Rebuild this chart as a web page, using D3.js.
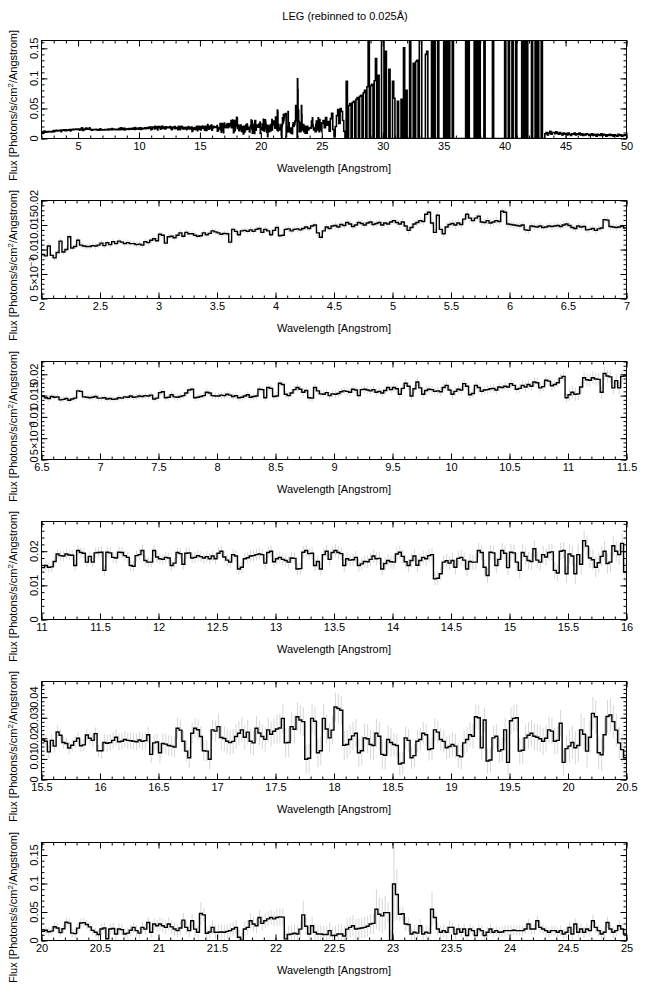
<!DOCTYPE html>
<html><head><meta charset="utf-8">
<script src="https://cdn.jsdelivr.net/npm/d3@7"></script>
<style>
body{margin:0;background:#fff}
text{font-family:"Liberation Sans",Arial,Helvetica,sans-serif;font-size:11px;fill:#000}
</style>
</head><body><svg id="c" width="647" height="995"></svg>
<script>
// ---- data (flux in units of 1e-3 photons/s/cm^2/Angstrom) ----
const FLUX_UNIT = 1e-3;
const BIN = 0.025;          // Angstrom per bin
const ROW_START = 2.0;      // first row starts at 2.0 A
const ROW_SPAN = 0.5;       // each row covers 0.5 A (20 bins)
const fluxRows = [
 [9.0,8.7,10.7,8.8,8.3,9.4,11.7,9.5,10.0,12.6,10.3,10.6,11.9,10.9,10.7,10.6,10.6,10.8,10.7,10.9],
 [11.3,10.8,11.4,11.0,11.6,11.2,11.7,11.5,11.2,11.4,11.2,11.2,11.0,11.1,10.9,11.6,11.4,11.9,12.2,11.8],
 [13.1,12.9,11.3,12.6,12.7,12.4,12.9,13.4,12.7,13.5,13.2,13.2,12.9,12.7,12.8,13.4,13.0,13.3,13.8,13.6],
 [13.4,13.1,13.3,13.2,11.5,14.1,13.7,13.0,13.8,13.9,13.7,14.0,13.7,14.1,14.3,13.5,14.1,13.8,13.0,13.9],
 [14.5,12.8,12.9,14.1,14.2,13.8,14.1,14.2,14.0,14.3,14.6,14.3,14.8,15.0,13.4,12.5,13.8,14.6,14.3,14.8],
 [14.9,14.6,15.1,14.9,15.5,15.2,14.7,15.0,15.5,15.3,15.0,15.4,15.6,15.1,15.3,15.5,15.0,15.4,15.2,15.6],
 [15.9,15.5,15.2,15.6,14.8,13.9,14.5,15.2,15.5,15.9,15.7,17.2,17.6,15.4,13.5,17.0,14.1,13.2,14.6,15.1],
 [15.3,15.0,15.4,15.1,16.2,17.2,16.4,15.9,16.4,16.8,15.6,15.5,15.9,15.4,15.6,15.9,15.7,17.8,17.6,15.2],
 [15.1,15.0,14.9,14.8,15.0,14.0,13.9,14.8,14.7,14.6,14.8,14.5,14.6,14.8,14.7,14.8,14.9,14.7,15.0,15.2],
 [14.9,14.5,14.3,14.8,14.6,14.7,14.0,14.1,14.3,13.9,14.2,14.4,16.1,16.0,14.7,14.6,14.5,14.6,14.8,14.4],
 [14.4,14.5,14.2,14.3,14.1,14.2,14.5,14.4,14.7,14.6,14.9,14.6,14.7,14.9,14.8,15.0,14.9,15.1,14.2,14.4],
 [15.7,15.9,14.5,14.6,15.2,14.7,14.6,14.8,15.0,15.6,16.3,16.5,14.5,14.6,14.8,15.0,15.8,15.6,15.0,14.9],
 [14.9,15.1,15.0,15.3,15.1,14.8,15.0,14.5,14.6,14.9,15.2,14.6,14.8,14.9,16.5,16.4,14.5,16.9,16.7,14.8],
 [14.9,17.9,17.6,15.3,15.0,15.6,16.4,16.9,16.5,15.8,16.2,14.5,14.4,16.9,16.1,15.4,15.3,15.7,15.0,15.4],
 [15.3,15.5,15.9,16.1,16.0,15.8,16.5,16.3,15.0,16.4,16.5,16.3,16.1,16.4,15.8,16.0,15.6,16.2,16.9,16.4],
 [16.9,16.6,15.3,16.7,17.9,17.2,14.9,16.6,18.2,16.8,15.3,16.2,16.5,16.4,16.0,16.1,15.9,16.9,17.4,16.3],
 [15.3,16.0,16.5,16.3,17.8,17.2,15.2,15.5,17.4,16.9,16.0,16.3,16.4,16.6,16.7,16.3,17.0,16.9,17.2,17.0],
 [17.8,17.4,16.5,16.7,17.4,17.0,17.6,17.2,18.2,18.0,16.8,17.1,18.6,18.4,17.3,17.6,18.0,19.1,19.5,14.5],
 [15.2,15.8,15.3,15.4,17.0,19.2,18.7,18.6,19.2,18.9,18.8,15.8,20.2,19.6,19.4,16.8,18.5,16.8,19.5,19.6],
 [19.7,14.4,19.7,19.5,18.2,18.0,19.7,19.6,18.7,18.2,15.8,15.6,18.7,19.0,20.2,17.3,16.8,16.8,20.2,18.3],
 [17.8,17.6,18.2,18.0,15.8,16.5,19.6,19.3,16.2,19.4,19.5,18.0,18.2,18.7,18.4,18.0,18.4,17.8,18.6,17.8],
 [19.4,20.0,18.3,17.4,16.8,19.0,18.6,14.8,15.3,17.8,18.1,18.6,18.7,19.0,19.2,19.0,16.5,19.6,20.0,16.9],
 [17.8,18.2,17.6,17.3,16.8,18.0,17.9,14.8,14.9,19.7,20.2,19.3,19.4,15.8,17.0,14.8,19.0,20.0,17.6,19.6],
 [20.2,19.6,19.3,15.8,17.8,17.4,17.5,18.2,15.8,16.3,17.0,16.9,17.6,18.6,17.8,17.9,14.8,16.4,17.3,16.9],
 [16.8,19.2,19.7,18.5,16.9,15.8,17.3,18.6,15.9,17.3,18.2,17.8,18.7,19.0,11.9,12.1,13.4,16.8,17.2,16.5],
 [17.3,15.3,17.9,18.2,17.4,14.8,17.0,16.8,16.8,20.2,19.6,15.3,12.9,19.7,19.5,15.8,17.6,20.2,19.4,15.2],
 [19.7,19.5,16.8,14.4,19.6,18.5,17.3,17.0,20.7,17.4,16.8,19.0,18.3,19.6,19.8,14.4,13.6,20.0,20.2,13.4],
 [19.2,18.6,13.4,19.0,16.2,23.1,21.5,18.0,17.5,15.3,16.6,18.5,20.0,16.4,16.8,21.6,20.0,19.0,22.3,13.9],
 [14.0,18.0,17.6,17.9,19.0,20.5,18.3,18.6,19.4,19.0,18.8,18.6,18.3,19.2,18.5,18.9,21.7,12.2,17.8,18.2],
 [13.0,17.5,17.2,16.5,16.2,15.8,24.9,24.0,18.6,13.8,10.6,22.5,24.9,24.2,20.9,14.0,13.8,9.8,24.1,23.5],
 [25.7,20.4,19.9,18.6,17.9,18.5,20.9,22.5,24.1,20.5,23.0,18.6,17.8,24.9,22.6,20.9,19.5,24.1,22.0,23.4],
 [24.5,25.0,29.7,17.8,18.0,25.7,24.4,30.5,28.9,28.1,9.8,10.3,29.7,28.3,13.0,14.0,29.7,24.5,20.2,24.0],
 [35.2,34.5,33.6,16.6,17.0,19.4,21.2,22.5,13.0,14.0,20.2,19.8,17.0,16.5,22.5,21.0,12.2,11.8,19.4,18.0],
 [17.0,16.5,7.5,8.0,20.2,19.0,10.6,11.6,18.6,19.4,22.5,21.7,14.6,15.0,24.1,23.0,19.4,18.5,15.4,16.0],
 [17.0,16.2,11.6,11.0,17.8,19.4,21.7,21.0,30.5,30.0,15.4,28.9,9.0,9.5,20.2,21.0,13.8,14.5,24.1,8.3],
 [28.5,29.7,30.0,13.8,14.2,20.2,21.5,22.5,21.0,20.5,19.8,18.6,20.0,24.1,23.5,18.6,19.0,27.3,8.3,15.0],
 [16.2,18.0,15.4,16.5,24.1,22.0,13.8,20.5,32.1,30.5,13.0,12.0,21.7,30.6,31.3,28.1,24.0,17.8,14.5,10.6],
 [20.2,22.0,3.0,20.2,21.0,11.5,20.2,19.0,11.5,13.0,18.0,23.1,17.3,13.0,23.1,20.0,31.7,14.4,28.9,26.0],
 [28.9,26.0,23.1,28.9,24.0,20.2,17.3,22.0,35.8,23.0,17.3,34.6,20.0,14.4,47.3,45.0,12.7,15.0,23.1,14.4],
 [14.4,15.0,14.4,16.0,17.3,20.2,23.1,5.8,0.0,20.2,23.1,34.6,28.9,26.0,40.4,30.0,34.6,38.0,40.4,38.0],
 [40.4,41.5,41.0,2.9,10.4,11.5,12.7,11.5,20.0,45.0,25.0,11.5,26.0,14.4,11.5,11.5,10.4,10.4,17.3,8.7],
 [8.7,11.5,11.5,8.0,20.0,23.1,26.0,20.2,21.0,22.0,23.1,25.0,28.9,30.0,54.8,46.2,43.3,49.0,49.0,0.0],
 [99.2,80.8,46.2,47.0,28.9,28.0,11.5,14.4,13.0,26.0,11.5,14.4,13.0,54.8,40.4,20.2,14.4,17.3,14.4,23.1],
 [23.1,11.5,20.2,14.4,20.2,8.7,20.2,17.3,8.7,20.2,17.3,8.7,14.4,20.2,14.4,17.3,14.4,15.0,17.3,17.3],
 [17.3,18.0,17.3,17.3,17.3,20.2,28.9,20.2,20.2,34.6,23.1,20.2,17.3,14.4,17.3,17.3,14.4,17.3,11.5,14.4],
 [23.1,11.5,28.9,14.4,20.2,14.4,20.2,17.3,34.6,23.1,17.3,11.5,14.4,31.7,20.2,14.4,17.3,26.0,20.2,11.5]
];
// typical 1-sigma error of each 0.5 A row (1e-3 units)
const errRows = [0.6,0.6,0.6,0.6,0.6, 0.7,0.8,0.8,0.7, 0.7,0.7,0.8,0.8,0.9,
  0.9,1.0,1.0,1.1, 1.5,1.6,1.6,1.7, 1.8,1.9,2.0,2.2,2.5, 3.0,
  4.0,5.0,6.0,7.0, 7.0,5.5,6.0,6.5, 8,10,12,13,15,18,12,9,9,10];
// bins with notably larger errors [wavelength, error (1e-3)]
const errPeaks = [[21.35,20],[22.225,25],[22.85,35],[22.875,30],[22.9,30],[22.925,30],[23.0,65],[23.025,45],[23.325,30]];

// long-wavelength part shown only in the overview (0.1 A bins, 1 A per row, from 25 A)
const LONG_START = 25.0, LONG_BIN = 0.1;
const fluxLongRows = [
 [25,30,18,35,22,28,12,33,42,15],
 [3,20,38,48,25,50,45,30,12,0],
 [95,0,55,58,0,60,62,0,65,68],
 [0,70,72,0,76,80,0,86,200,0],
 [88,90,0,96,133,0,105,0,0,200],
 [200,0,145,0,0,115,0,0,95,67],
 [0,0,62,0,0,65,0,151,0,80],
 [0,0,200,0,0,125,0,128,130,0],
 [200,200,0,0,0,140,145,0,0,0],
 [200,0,200,0,0,200,0,0,0,0],
 [200,0,200,0,200,0,0,200,0,0],
 [0,0,0,0,0,0,0,0,200,0],
 [200,0,0,0,0,200,0,200,0,200],
 [0,0,0,200,0,0,0,0,0,0],
 [200,0,0,0,0,0,0,0,0,0],
 [200,0,0,200,0,0,200,0,0,200],
 [0,0,0,0,200,0,200,0,200,0],
 [0,0,200,0,0,200,0,200,0,0],
 [200,0,0,8,10,6,9,12,7,10],
 [10,8,11,9,7,10,8,6,9,7],
 [8,6,9,7,5,8,7,9,6,8],
 [7,9,6,8,5,7,6,8,7,5],
 [6,8,5,7,6,4,7,6,5,8],
 [5,7,6,4,6,5,7,5,6,4],
 [6,5,4,7,5,6,4,5,6,5]
];

// panels
const panelXDomain = [[2,50],[2,7],[6.5,11.5],[11,16],[15.5,20.5],[20,25]];
const panelYMax = [0.163,0.02,0.023,0.0287,0.0476,0.172];
const xTickValues = [
 [5,10,15,20,25,30,35,40,45,50],
 [2,2.5,3,3.5,4,4.5,5,5.5,6,6.5,7],
 [6.5,7,7.5,8,8.5,9,9.5,10,10.5,11,11.5],
 [11,11.5,12,12.5,13,13.5,14,14.5,15,15.5,16],
 [15.5,16,16.5,17,17.5,18,18.5,19,19.5,20,20.5],
 [20,20.5,21,21.5,22,22.5,23,23.5,24,24.5,25]
];
const xTickLabels = [
 ["5","10","15","20","25","30","35","40","45","50"],
 ["2","2.5","3","3.5","4","4.5","5","5.5","6","6.5","7"],
 ["6.5","7","7.5","8","8.5","9","9.5","10","10.5","11","11.5"],
 ["11","11.5","12","12.5","13","13.5","14","14.5","15","15.5","16"],
 ["15.5","16","16.5","17","17.5","18","18.5","19","19.5","20","20.5"],
 ["20","20.5","21","21.5","22","22.5","23","23.5","24","24.5","25"]
];
const xMinorStep = [1,0.1,0.1,0.1,0.1,0.1];
const yTickValues = [
 [0,0.05,0.1,0.15],
 [0,0.005,0.01,0.015,0.02],
 [0,0.005,0.01,0.015,0.02],
 [0,0.01,0.02],
 [0,0.01,0.02,0.03,0.04],
 [0,0.05,0.1,0.15]
];
const yTickLabels = [
 ["0","0.05","0.1","0.15"],
 ["0","5×10^−3","0.01","0.015","0.02"],
 ["0","5×10^−3","0.01","0.015","0.02"],
 ["0","0.01","0.02"],
 ["0","0.01","0.02","0.03","0.04"],
 ["0","0.05","0.1","0.15"]
];
const yMinorStep = [0.01,0.001,0.001,0.002,0.002,0.01];
const titleText = "LEG (rebinned to 0.025Å)";
const xTitle = "Wavelength [Angstrom]";

// ---- build bins ----
const bins = [];
fluxRows.forEach((row,r)=>row.forEach((v,j)=>{
  const x0 = ROW_START + r*ROW_SPAN + j*BIN;
  bins.push({x0, x1:x0+BIN, y:v*FLUX_UNIT, e:errRows[r]*FLUX_UNIT});
}));
errPeaks.forEach(([w,e])=>{const i=Math.round((w-ROW_START)/BIN); if(bins[i]) bins[i].e=e*FLUX_UNIT;});
const longBins = [];
fluxLongRows.forEach((row,r)=>row.forEach((v,j)=>{
  const x0 = LONG_START + r + j*LONG_BIN;
  longBins.push({x0, x1:x0+LONG_BIN, y:v*FLUX_UNIT});
}));

// ---- layout ----
const svg = d3.select("#c");
const L = 41, R = 626, TOP0 = 40, STEP = 160.3, PH = 98;
const PW = R - L;

svg.append("text").attr("x",345).attr("y",20).attr("text-anchor","middle").text(titleText);

panelXDomain.forEach((dom,i)=>{
  const ty = Math.round(TOP0 + i*STEP) + 0.5;
  const g = svg.append("g").attr("transform",`translate(${L+0.5},${ty})`);
  const x = d3.scaleLinear().domain(dom).range([0,PW]);
  const y = d3.scaleLinear().domain([0,panelYMax[i]]).range([PH,0]);
  const cid = "clip"+i;
  g.append("clipPath").attr("id",cid).append("rect").attr("x",0).attr("y",0).attr("width",PW).attr("height",PH);
  const plot = g.append("g").attr("clip-path",`url(#${cid})`);

  const data = i===0 ? bins.concat(longBins)
                     : bins.filter(b=>b.x1>dom[0]+1e-9 && b.x0<dom[1]-1e-9);
  if(i>0){
    plot.append("g").selectAll("line").data(data).join("line")
      .attr("x1",d=>x((d.x0+d.x1)/2)).attr("x2",d=>x((d.x0+d.x1)/2))
      .attr("y1",d=>y(d.y-d.e)).attr("y2",d=>y(d.y+d.e))
      .attr("stroke","#d6d6d6").attr("stroke-width",1);
  }
  const pts = data.flatMap(b=>[[b.x0,b.y],[b.x1,b.y]]);
  const line = d3.line().x(d=>x(d[0])).y(d=>y(d[1]));
  plot.append("path").attr("d",line(pts)).attr("fill","none")
    .attr("stroke","#000").attr("stroke-width",i===0?1.6:1.4).attr("stroke-linejoin","miter");

  // ticks (inward on all sides)
  const xMin = d3.range(Math.ceil(dom[0]/xMinorStep[i]-1e-6)*xMinorStep[i], dom[1]+1e-6, xMinorStep[i]);
  const yMin = d3.range(0, panelYMax[i]+1e-9, yMinorStep[i]);
  const clean = s=>{s.select(".domain").remove(); s.attr("font-family",null).attr("font-size",null);};
  g.append("g").attr("transform",`translate(0,${PH})`).call(d3.axisBottom(x).tickValues(xMin).tickSize(-3).tickFormat("")).call(clean);
  g.append("g").attr("transform",`translate(0,${PH})`).call(d3.axisBottom(x).tickValues(xTickValues[i]).tickSize(-6).tickPadding(4).tickFormat((d,k)=>xTickLabels[i][k])).call(clean);
  g.append("g").call(d3.axisTop(x).tickValues(xMin).tickSize(-3).tickFormat("")).call(clean);
  g.append("g").call(d3.axisTop(x).tickValues(xTickValues[i]).tickSize(-6).tickFormat("")).call(clean);
  g.append("g").call(d3.axisLeft(y).tickValues(yMin).tickSize(-3).tickFormat("")).call(clean);
  g.append("g").call(d3.axisLeft(y).tickValues(yTickValues[i]).tickSize(-6).tickFormat("")).call(clean);
  g.append("g").attr("transform",`translate(${PW},0)`).call(d3.axisRight(y).tickValues(yMin).tickSize(-3).tickFormat("")).call(clean);
  g.append("g").attr("transform",`translate(${PW},0)`).call(d3.axisRight(y).tickValues(yTickValues[i]).tickSize(-6).tickFormat("")).call(clean);

  g.append("rect").attr("x",0).attr("y",0).attr("width",PW).attr("height",PH)
    .attr("fill","none").attr("stroke","#000").attr("stroke-width",1);

  // rotated y tick labels
  yTickValues[i].forEach((v,k)=>{
    const parts = yTickLabels[i][k].split("^");
    const t = g.append("text").attr("transform",`translate(-4,${y(v)}) rotate(-90)`).attr("text-anchor","middle");
    t.append("tspan").text(parts[0]);
    if(parts[1]) t.append("tspan").attr("baseline-shift","super").style("font-size","8px").text(parts[1]);
  });

  g.append("text").attr("x",PW/2).attr("y",PH+33).attr("text-anchor","middle").text(xTitle);
  const yt = g.append("text").attr("transform",`translate(${16-L},${PH/2+16}) rotate(-90)`).attr("text-anchor","middle");
  yt.append("tspan").text("Flux [Photons/s/cm");
  yt.append("tspan").attr("baseline-shift","super").style("font-size","8px").text("2");
  yt.append("tspan").text("/Angstrom]");
});
</script></body></html>
